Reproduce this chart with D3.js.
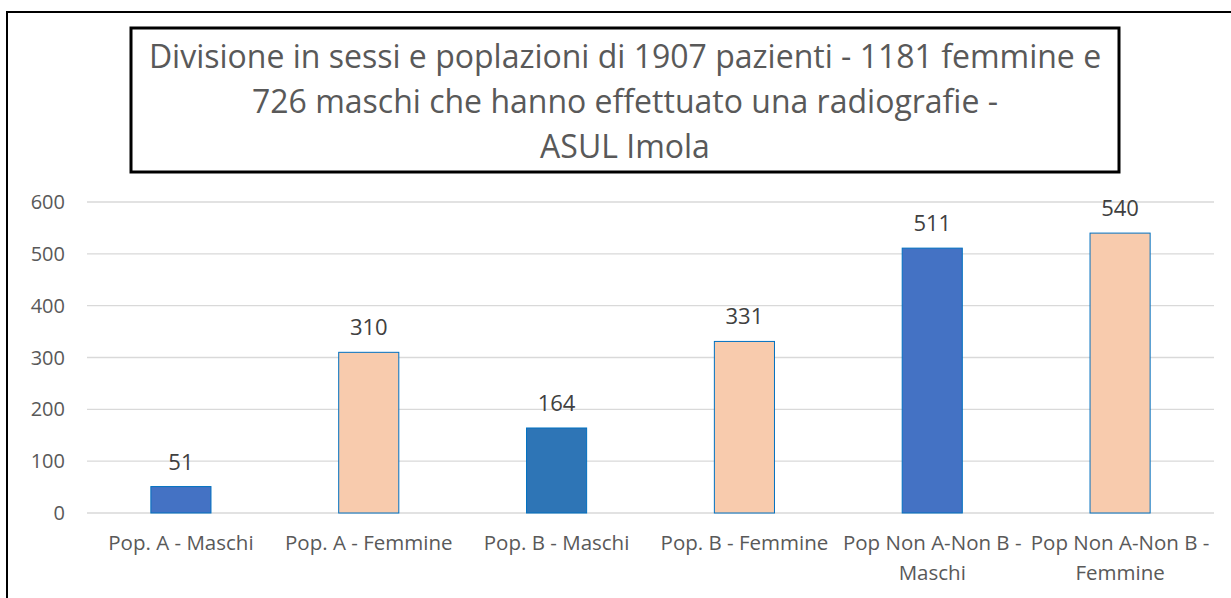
<!DOCTYPE html>
<html lang="it">
<head>
<meta charset="UTF-8">
<title>Divisione in sessi e popolazioni</title>
<script src="https://d3js.org/d3.v7.min.js"></script>
<style>
    body { margin: 0; background: #fff; }
    svg { display: block; }
    text { font-family: "Open Sans", "Noto Sans", sans-serif; }
    .grid line { stroke: #d9d9d9; stroke-width: 1.3; }
    .tick-label { font-size: 20px; fill: #595959; }
    .cat-label { font-size: 20.5px; fill: #595959; text-anchor: middle; }
    .val-label { font-size: 22px; fill: #404040; text-anchor: middle; }
    .title { font-size: 32px; fill: #595959; text-anchor: middle; }
</style>
</head>
<body>
<svg width="1231" height="598"></svg>
<script>
    // data
    const categories = [
        ["Pop. A - Maschi"],
        ["Pop. A - Femmine"],
        ["Pop. B - Maschi"],
        ["Pop. B - Femmine"],
        ["Pop Non A-Non B -", "Maschi"],
        ["Pop Non A-Non B -", "Femmine"]
    ];
    const values = [51, 310, 164, 331, 511, 540];
    const barColors = ["#4472c4", "#f8cbad", "#2e75b6", "#f8cbad", "#4472c4", "#f8cbad"];
    const yTicks = [0, 100, 200, 300, 400, 500, 600];
    const titleLines = [
        "Divisione in sessi e poplazioni di 1907 pazienti - 1181 femmine e",
        "726 maschi che hanno effettuato una radiografie -",
        "ASUL Imola"
    ];

    const svg = d3.select("svg");

    // outer frame (runs off the right and bottom edge)
    svg.append("rect")
        .attr("x", 7).attr("y", 12)
        .attr("width", 1240).attr("height", 620)
        .attr("fill", "none").attr("stroke", "#000").attr("stroke-width", 2);

    // title box
    svg.append("rect")
        .attr("x", 131).attr("y", 28)
        .attr("width", 988).attr("height", 144)
        .attr("fill", "#fff").attr("stroke", "#000").attr("stroke-width", 3);

    svg.selectAll(".title").data(titleLines).enter()
        .append("text").attr("class", "title")
        .attr("x", 625)
        .attr("y", (d, i) => 68 + i * 45)
        .text(d => d);

    const margin = { left: 87, right: 1214, top: 202, bottom: 513 };

    const x = d3.scaleBand()
        .domain(d3.range(categories.length))
        .range([margin.left, margin.right])
        .paddingInner(0.68).paddingOuter(0.34);

    const y = d3.scaleLinear().domain([0, 600]).range([margin.bottom, margin.top]);

    // gridlines
    svg.append("g").attr("class", "grid")
        .selectAll("line").data(yTicks).enter()
        .append("line")
        .attr("x1", margin.left).attr("x2", margin.right)
        .attr("y1", d => y(d)).attr("y2", d => y(d));

    // y tick labels
    svg.selectAll(".tick-label").data(yTicks).enter()
        .append("text").attr("class", "tick-label")
        .attr("x", 65).attr("y", d => y(d) + 7)
        .attr("text-anchor", "end")
        .text(d => d);

    // bars
    svg.selectAll(".bar").data(values).enter()
        .append("rect").attr("class", "bar")
        .attr("x", (d, i) => x(i))
        .attr("width", x.bandwidth())
        .attr("y", d => y(d))
        .attr("height", d => y(0) - y(d))
        .attr("fill", (d, i) => barColors[i])
        .attr("stroke", "#0070c0").attr("stroke-width", 1);

    // value labels
    svg.selectAll(".val-label").data(values).enter()
        .append("text").attr("class", "val-label")
        .attr("x", (d, i) => x(i) + x.bandwidth() / 2)
        .attr("y", d => y(d) - 17)
        .text(d => d);

    // category labels
    categories.forEach((lines, i) => {
        const t = svg.append("text").attr("class", "cat-label")
            .attr("x", x(i) + x.bandwidth() / 2)
            .attr("y", 550);
        lines.forEach((l, j) => {
            t.append("tspan")
                .attr("x", x(i) + x.bandwidth() / 2)
                .attr("dy", j === 0 ? 0 : 30)
                .text(l);
        });
    });
</script>
</body>
</html>
